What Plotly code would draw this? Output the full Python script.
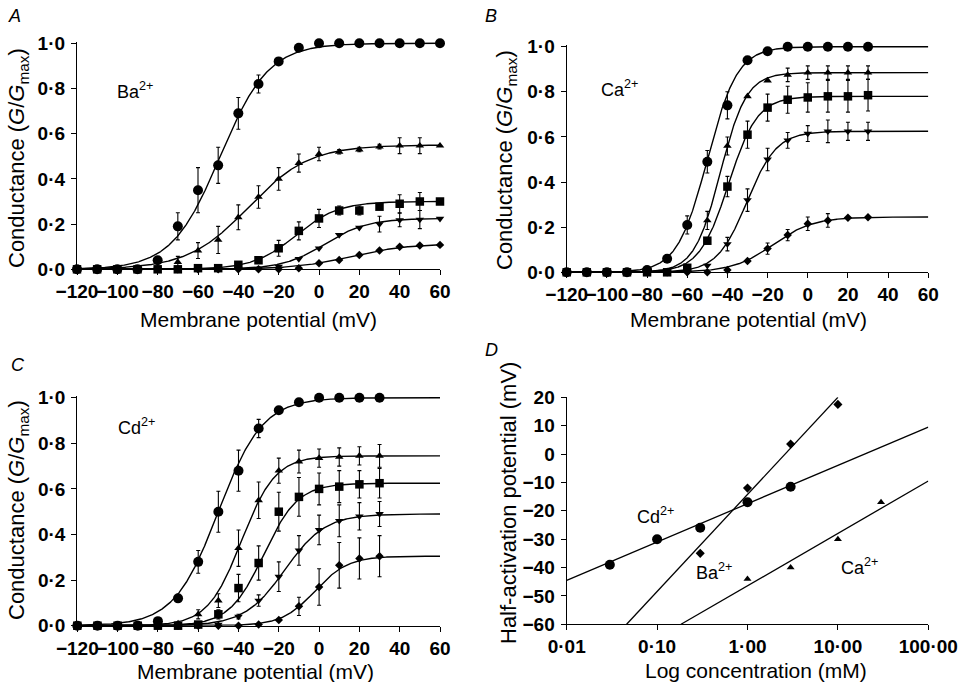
import math
import numpy as np
import plotly.graph_objects as go

# ---------------- DATA ----------------
# Panel A: Ba2+ (membrane potential, mV)
volt_a = [-120, -110, -100, -90, -80, -70, -60, -50, -40, -30, -20, -10, 0, 10, 20, 30, 40, 50, 60]
ba_circ = [0, 0, 0, 0, 0.04, 0.19, 0.35, 0.46, 0.69, 0.82, 0.92, 0.98, 1.0, 1.0, 1.0, 1.0, 1.0, 1.0, 1.0]
ba_circ_err = [0, 0, 0, 0, 0, 0.06, 0.10, 0.08, 0.07, 0.04, 0, 0, 0, 0, 0, 0, 0, 0, 0]
ba_tri = [0, 0, 0, 0, 0.005, 0.032, 0.083, 0.13, 0.23, 0.32, 0.40, 0.47, 0.51, 0.52, 0.53, 0.543, 0.547, 0.547, 0.547]
ba_tri_err = [0, 0, 0, 0, 0, 0.025, 0.035, 0.06, 0.055, 0.05, 0.05, 0.04, 0.03, 0.01, 0.01, 0.01, 0.035, 0.035, 0]
ba_sq = [0, 0, 0, 0, 0, 0, 0.005, 0.005, 0.02, 0.04, 0.093, 0.17, 0.225, 0.26, 0.26, 0.277, 0.29, 0.30, 0.30]
ba_sq_err = [0, 0, 0, 0, 0, 0, 0, 0, 0, 0, 0.035, 0.04, 0.04, 0.02, 0.02, 0.01, 0.04, 0.04, 0]
ba_itri = [0, 0, 0, 0, 0, 0, 0, 0, 0, 0.002, 0.012, 0.046, 0.093, 0.152, 0.184, 0.20, 0.218, 0.22, 0.224]
ba_itri_err = [0, 0, 0, 0, 0, 0, 0, 0, 0, 0, 0, 0, 0, 0, 0, 0.035, 0.03, 0.04, 0]
ba_dia = [0, 0, 0, 0, 0, 0, 0, 0, 0, 0, 0, 0.005, 0.027, 0.041, 0.063, 0.083, 0.10, 0.105, 0.108]
ba_dia_err = [0] * 19
# Boltzmann fit parameters: Gmax, V1/2, slope k
ba_gmax = [1.0, 0.55, 0.30, 0.225, 0.113]
ba_v50 = [-49, -35, -11.5, 3, 16]
ba_k = [12, 15, 10.5, 10.5, 14]

# Panel B: Ca2+
volt_bc = [-120, -110, -100, -90, -80, -70, -60, -50, -40, -30, -20, -10, 0, 10, 20, 30]
ca_circ = [0, 0, 0, 0, 0.01, 0.06, 0.21, 0.49, 0.74, 0.94, 0.98, 1.0, 1.0, 1.0, 1.0, 1.0]
ca_circ_err = [0, 0, 0, 0, 0, 0, 0.04, 0.05, 0.06, 0, 0, 0, 0, 0, 0, 0]
ca_tri = [0, 0, 0, 0, 0, 0.005, 0.02, 0.23, 0.56, 0.78, 0.85, 0.875, 0.885, 0.885, 0.885, 0.885]
ca_tri_err = [0, 0, 0, 0, 0, 0, 0, 0.04, 0.04, 0, 0, 0.03, 0.03, 0.03, 0.03, 0.03]
ca_sq = [0, 0, 0, 0, 0, 0, 0.02, 0.14, 0.38, 0.61, 0.73, 0.765, 0.775, 0.78, 0.78, 0.785]
ca_sq_err = [0, 0, 0, 0, 0, 0, 0, 0, 0.045, 0.06, 0.06, 0.06, 0.065, 0.07, 0.07, 0.07]
ca_itri = [0, 0, 0, 0, 0, 0, 0, 0.03, 0.125, 0.32, 0.50, 0.585, 0.615, 0.625, 0.625, 0.625]
ca_itri_err = [0, 0, 0, 0, 0, 0, 0, 0, 0.03, 0.05, 0.05, 0.035, 0.035, 0.05, 0.04, 0.04]
ca_dia = [0, 0, 0, 0, 0, 0, 0, 0, 0.01, 0.05, 0.105, 0.165, 0.215, 0.23, 0.242, 0.244]
ca_dia_err = [0, 0, 0, 0, 0, 0, 0, 0, 0, 0, 0.025, 0.025, 0.03, 0.03, 0, 0]
ca_gmax = [1.0, 0.885, 0.78, 0.625, 0.245]
ca_v50 = [-50, -43.5, -39.5, -30.3, -17.4]
ca_k = [7.5, 6.5, 7.2, 7.4, 10]

# Panel C: Cd2+
cd_circ = [0, 0, 0, 0, 0.02, 0.12, 0.28, 0.50, 0.68, 0.865, 0.945, 0.98, 1.0, 1.0, 1.0, 1.0]
cd_circ_err = [0, 0, 0, 0, 0, 0, 0.05, 0.09, 0.09, 0.04, 0, 0, 0, 0, 0, 0]
cd_tri = [0, 0, 0, 0, 0, 0.01, 0.05, 0.11, 0.34, 0.55, 0.68, 0.72, 0.735, 0.74, 0.745, 0.745]
cd_tri_err = [0, 0, 0, 0, 0, 0, 0.02, 0.03, 0.08, 0.08, 0.055, 0.05, 0.04, 0.04, 0.04, 0.05]
cd_sq = [0, 0, 0, 0, 0, 0, 0.005, 0.05, 0.165, 0.275, 0.50, 0.565, 0.60, 0.61, 0.62, 0.625]
cd_sq_err = [0, 0, 0, 0, 0, 0, 0, 0.02, 0.06, 0.075, 0.085, 0.085, 0.07, 0.07, 0.06, 0.065]
cd_itri = [0, 0, 0, 0, 0, 0, 0, 0.005, 0.04, 0.11, 0.215, 0.33, 0.42, 0.46, 0.48, 0.49]
cd_itri_err = [0, 0, 0, 0, 0, 0, 0, 0, 0.01, 0.025, 0.065, 0.065, 0.065, 0.07, 0.06, 0.055]
cd_dia = [0, 0, 0, 0, 0, 0, 0, 0, 0, 0.005, 0.025, 0.085, 0.17, 0.265, 0.295, 0.305]
cd_dia_err = [0, 0, 0, 0, 0, 0, 0, 0, 0, 0, 0, 0.04, 0.08, 0.10, 0.09, 0.09]
cd_gmax = [1.0, 0.745, 0.625, 0.49, 0.305]
cd_v50 = [-50, -38.5, -27.5, -17, -2]
cd_k = [11, 8.4, 8.5, 10, 8.2]

# Panel D: half-activation potential vs concentration (mM)
ba_conc = [0.3, 1, 3, 10]
ba_half = [-35, -12, 3.5, 17.5]
cd_conc = [0.03, 0.1, 0.3, 1, 3]
cd_half = [-39, -30, -26, -17, -11.5]
ca_conc = [1, 3, 10, 30]
ca_half = [-44, -40, -30, -17]
# fitted regression lines (end points)
ba_fit_conc = [0.046, 10]
ba_fit_half = [-60, 20]
cd_fit_conc = [0.01, 100]
cd_fit_half = [-44.5, 9.5]
ca_fit_conc = [0.184, 100]
ca_fit_half = [-60, -9.5]

mv_ticks = [-120, -100, -80, -60, -40, -20, 0, 20, 40, 60]
mv_ticktext = ["\u2212120", "\u2212100", "\u221280", "\u221260", "\u221240", "\u221220", "0", "20", "40", "60"]
g_ticks = [0, 0.2, 0.4, 0.6, 0.8, 1.0]
g_ticktext = ["0\u00b70", "0\u00b72", "0\u00b74", "0\u00b76", "0\u00b78", "1\u00b70"]
conc_ticks = [0.01, 0.1, 1, 10, 100]
conc_ticktext = ["0\u00b701", "0\u00b710", "1\u00b700", "10\u00b700", "100\u00b700"]
half_ticks = [-60, -50, -40, -30, -20, -10, 0, 10, 20]
half_ticktext = ["\u221260", "\u221250", "\u221240", "\u221230", "\u221220", "\u221210", "0", "10", "20"]

# ---------------- FIGURE ----------------
W, H = 975, 682
FONT = "Liberation Sans"
fig = go.Figure()

symbols = ["circle", "triangle-up", "square", "triangle-down", "diamond"]
sizes = [10, 7.5, 8.5, 7.5, 6.5]


def boltz(v, gmax, v50, k):
    return gmax / (1.0 + np.exp((v50 - v) / k))


def add_panel(n, volts, series, errs, gmax, v50, k):
    xa = "x" if n == 1 else f"x{n}"
    ya = "y" if n == 1 else f"y{n}"
    vv = np.linspace(-120, 60, 721)
    for i in range(len(gmax)):
        fig.add_trace(go.Scatter(x=vv, y=boltz(vv, gmax[i], v50[i], k[i]), mode="lines",
                                 line=dict(color="black", width=1.4), xaxis=xa, yaxis=ya,
                                 hoverinfo="skip"))
    for i, (s, e) in enumerate(zip(series, errs)):
        fig.add_trace(go.Scatter(x=volts, y=s, mode="markers", cliponaxis=False,
                                 marker=dict(symbol=symbols[i], size=sizes[i], color="black"),
                                 error_y=dict(type="data", array=e, visible=True, color="black",
                                              thickness=1.1, width=2),
                                 xaxis=xa, yaxis=ya))


add_panel(1, volt_a, [ba_circ, ba_tri, ba_sq, ba_itri, ba_dia],
          [ba_circ_err, ba_tri_err, ba_sq_err, ba_itri_err, ba_dia_err], ba_gmax, ba_v50, ba_k)
add_panel(2, volt_bc, [ca_circ, ca_tri, ca_sq, ca_itri, ca_dia],
          [ca_circ_err, ca_tri_err, ca_sq_err, ca_itri_err, ca_dia_err], ca_gmax, ca_v50, ca_k)
add_panel(3, volt_bc, [cd_circ, cd_tri, cd_sq, cd_itri, cd_dia],
          [cd_circ_err, cd_tri_err, cd_sq_err, cd_itri_err, cd_dia_err], cd_gmax, cd_v50, cd_k)

# Panel D
for cx, hy in [(ba_fit_conc, ba_fit_half), (cd_fit_conc, cd_fit_half), (ca_fit_conc, ca_fit_half)]:
    fig.add_trace(go.Scatter(x=cx, y=hy, mode="lines", line=dict(color="black", width=1.3),
                             xaxis="x4", yaxis="y4", hoverinfo="skip"))
for cx, hy, sym, sz in [(ba_conc, ba_half, "diamond", 7), (cd_conc, cd_half, "circle", 10),
                        (ca_conc, ca_half, "triangle-up", 7)]:
    fig.add_trace(go.Scatter(x=cx, y=hy, mode="markers", cliponaxis=False,
                             marker=dict(symbol=sym, size=sz, color="black"),
                             xaxis="x4", yaxis="y4"))


def xdom(p0, p1):
    return [p0 / W, p1 / W]


def ydom(top, bottom):
    return [1 - bottom / H, 1 - top / H]


axis_common = dict(showline=True, linecolor="black", linewidth=1.3, ticks="outside", ticklen=5,
                   tickwidth=1.3, tickcolor="black", showgrid=False, zeroline=False,
                   tickfont=dict(family=FONT, size=19, color="black", weight="bold"), mirror=False,
                   automargin=False, tickangle=0)

# pad of y range top so asymptotic curves at 1.0 are not half clipped
pad = 0.006

panels = {
    1: dict(x=(77, 440), y=(43.3, 269.3)),
    2: dict(x=(566.7, 928.3), y=(46.7, 272.3)),
    3: dict(x=(77.3, 440), y=(397.7, 625.7)),
}
layout_axes = {}
for n, p in panels.items():
    sx = "" if n == 1 else str(n)
    top, bot = p["y"]
    top_adj = top - pad * (bot - top)
    layout_axes[f"xaxis{sx}"] = dict(axis_common, domain=xdom(*p["x"]), range=[-120, 60],
                                    tickvals=mv_ticks, ticktext=mv_ticktext, anchor=f"y{sx}",
                                    ticklabelstandoff=0)
    layout_axes[f"yaxis{sx}"] = dict(axis_common, domain=ydom(top_adj, bot), range=[0, 1 + pad],
                                    tickvals=g_ticks, ticktext=g_ticktext, anchor=f"x{sx}",
                                    ticklabelstandoff=2)
layout_axes["xaxis4"] = dict(axis_common, domain=xdom(566.7, 928.3), type="log", range=[-2, 2],
                             tickvals=conc_ticks, ticktext=conc_ticktext, anchor="y4",
                             ticklabelstandoff=0)
layout_axes["yaxis4"] = dict(axis_common, domain=ydom(397.3, 624.3), range=[-60, 20],
                             tickvals=half_ticks, ticktext=half_ticktext, anchor="x4",
                             ticklabelstandoff=2)

ann = []


def paper_text(text, px, py, size=21, angle=0, italic=False, xanchor="center"):
    ann.append(dict(text=f"<i>{text}</i>" if italic else text, x=px / W, y=1 - py / H,
                    xref="paper", yref="paper", showarrow=False, textangle=angle,
                    xanchor=xanchor, yanchor="middle",
                    font=dict(family=FONT, size=size, color="black")))


# panel letters
paper_text("A", 6, 16, size=18, italic=True, xanchor="left")
paper_text("B", 483, 16, size=18, italic=True, xanchor="left")
paper_text("C", 9, 365, size=18, italic=True, xanchor="left")
paper_text("D", 483, 350, size=18, italic=True, xanchor="left")

# axis titles
ytitle = "Conductance (<i>G</i>/<i>G</i><sub>max</sub>)"
paper_text("Membrane potential (mV)", 258, 319)
paper_text("Membrane potential (mV)", 748, 319)
paper_text("Membrane potential (mV)", 255, 671)
paper_text("Log concentration (mM)", 756, 670)
paper_text(ytitle, 18, 158, angle=-90, size=22)
paper_text(ytitle, 506, 160, angle=-90, size=22)
paper_text(ytitle, 18, 510, angle=-90, size=22)
paper_text("Half-activation potential (mV)", 508, 503, angle=-90, size=22)

# ion labels
ion_font = dict(family=FONT, size=18, color="black")
ann.append(dict(text="Ba<sup>2+</sup>", x=-101, y=0.79, xref="x", yref="y", showarrow=False,
                xanchor="left", yanchor="middle", font=ion_font))
ann.append(dict(text="Ca<sup>2+</sup>", x=-104, y=0.815, xref="x2", yref="y2", showarrow=False,
                xanchor="left", yanchor="middle", font=ion_font))
ann.append(dict(text="Cd<sup>2+</sup>", x=-101, y=0.875, xref="x3", yref="y3", showarrow=False,
                xanchor="left", yanchor="middle", font=ion_font))
ann.append(dict(text="Cd<sup>2+</sup>", x=math.log10(0.095), y=-21.5, xref="x4", yref="y4",
                showarrow=False, xanchor="center", yanchor="middle", font=ion_font))
ann.append(dict(text="Ba<sup>2+</sup>", x=math.log10(0.43), y=-41.5, xref="x4", yref="y4",
                showarrow=False, xanchor="center", yanchor="middle", font=ion_font))
ann.append(dict(text="Ca<sup>2+</sup>", x=math.log10(17.5), y=-39.5, xref="x4", yref="y4",
                showarrow=False, xanchor="center", yanchor="middle", font=ion_font))

fig.update_layout(width=W, height=H, margin=dict(l=0, r=0, t=0, b=0), showlegend=False,
                  plot_bgcolor="white", paper_bgcolor="white", annotations=ann,
                  font=dict(family=FONT, color="black"), **layout_axes)

fig.write_html("out.html", config={"displayModeBar": False},
               post_script="document.body.style.margin='0';document.body.style.padding='0';")
